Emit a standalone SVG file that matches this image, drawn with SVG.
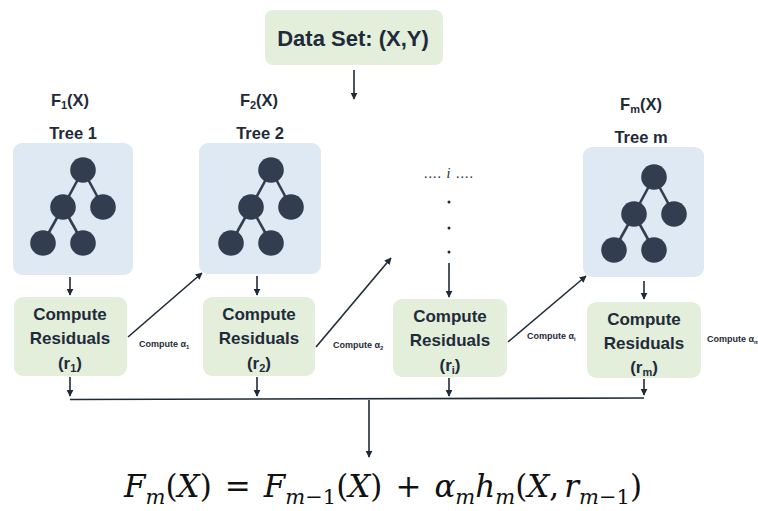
<svg xmlns="http://www.w3.org/2000/svg" width="758" height="511" viewBox="0 0 758 511">
  <style>
    .tb{fill:#dfe9f4}
    .cb{fill:#e3efda}
    .nd{fill:#323e4f}
    .ed{stroke:#323e4f;stroke-width:2.6}
    .lbl{font-family:"Liberation Sans",Arial,sans-serif;font-weight:bold;fill:#1f2b3a;text-anchor:middle}
    .ln{stroke:#1f2a38;stroke-width:1.6;fill:none}
    .sm{font-family:"Liberation Sans",Arial,sans-serif;font-weight:bold;font-size:9px;fill:#1f2b3a}
    .eq{font-family:"DejaVu Serif","Liberation Serif",serif;font-size:31px;fill:#111}
    .it{font-style:italic}
  </style>
  <defs>
    <marker id="ah" viewBox="0 0 10 10" refX="9" refY="5" markerWidth="7" markerHeight="7" markerUnits="userSpaceOnUse" orient="auto">
      <path d="M0,0 L10,5 L0,10 Z" fill="#1f2a38"/>
    </marker>
    <g id="tree">
      <line class="ed" x1="0" y1="0" x2="-20" y2="37"/>
      <line class="ed" x1="0" y1="0" x2="20" y2="37"/>
      <line class="ed" x1="-20" y1="37" x2="-40" y2="73"/>
      <line class="ed" x1="-20" y1="37" x2="0" y2="73"/>
      <circle class="nd" cx="0" cy="0" r="12.8"/>
      <circle class="nd" cx="-20" cy="37" r="12.8"/>
      <circle class="nd" cx="20" cy="37" r="12.8"/>
      <circle class="nd" cx="-40" cy="73" r="12.8"/>
      <circle class="nd" cx="0" cy="73" r="12.8"/>
    </g>
  </defs>

  <!-- data set -->
  <g id="dataset">
    <rect class="cb" x="265" y="10" width="178" height="55" rx="8"/>
    <text class="lbl" x="353" y="46" font-size="22">Data Set: (X,Y)</text>
  </g>

  <!-- tree 1 -->
  <g id="tree1">
    <text class="lbl" x="70" y="106" font-size="16.5">F<tspan font-size="11" dy="3">1</tspan><tspan dy="-3">(X)</tspan></text>
    <text class="lbl" x="73" y="139" font-size="16.5">Tree 1</text>
    <rect class="tb" x="13" y="143" width="120" height="132" rx="9"/>
    <use href="#tree" x="83" y="170"/>
  </g>

  <!-- tree 2 -->
  <g id="tree2">
    <text class="lbl" x="259" y="106" font-size="16.5">F<tspan font-size="11" dy="3">2</tspan><tspan dy="-3">(X)</tspan></text>
    <text class="lbl" x="260" y="139" font-size="16.5">Tree 2</text>
    <rect class="tb" x="199" y="143" width="122" height="131" rx="9"/>
    <use href="#tree" x="271" y="170"/>
  </g>

  <!-- tree i placeholder -->
  <g id="treei">
    <text x="449" y="178" font-family="'Liberation Serif',serif" font-size="14" letter-spacing="1" text-anchor="middle" fill="#1f2b3a">.... <tspan font-style="italic">i</tspan> ....</text>
    <circle cx="449" cy="202" r="1.5" fill="#1f2b3a"/>
    <circle cx="449" cy="228" r="1.5" fill="#1f2b3a"/>
    <circle cx="449" cy="252" r="1.5" fill="#1f2b3a"/>
  </g>

  <!-- tree m -->
  <g id="treem">
    <text class="lbl" x="641" y="110" font-size="16.5">F<tspan font-size="11" dy="3">m</tspan><tspan dy="-3">(X)</tspan></text>
    <text class="lbl" x="641" y="143" font-size="16.5">Tree m</text>
    <rect class="tb" x="583" y="147" width="121" height="130" rx="9"/>
    <use href="#tree" x="654" y="177"/>
  </g>

  <!-- residual boxes -->
  <g id="res1">
    <rect class="cb" x="14" y="297" width="113" height="79" rx="9"/>
    <text class="lbl" x="70" y="320" font-size="17">Compute</text>
    <text class="lbl" x="70" y="344" font-size="17">Residuals</text>
    <text class="lbl" x="70" y="369" font-size="17">(r<tspan font-size="11" dy="3">1</tspan><tspan dy="-3">)</tspan></text>
  </g>
  <g id="res2">
    <rect class="cb" x="203" y="297" width="112" height="79" rx="9"/>
    <text class="lbl" x="259" y="320" font-size="17">Compute</text>
    <text class="lbl" x="259" y="344" font-size="17">Residuals</text>
    <text class="lbl" x="259" y="369" font-size="17">(r<tspan font-size="11" dy="3">2</tspan><tspan dy="-3">)</tspan></text>
  </g>
  <g id="resi">
    <rect class="cb" x="393" y="299" width="114" height="78" rx="9"/>
    <text class="lbl" x="450" y="322" font-size="17">Compute</text>
    <text class="lbl" x="450" y="346" font-size="17">Residuals</text>
    <text class="lbl" x="450" y="371" font-size="17">(r<tspan font-size="11" dy="3">i</tspan><tspan dy="-3">)</tspan></text>
  </g>
  <g id="resm">
    <rect class="cb" x="587" y="302" width="114" height="76" rx="9"/>
    <text class="lbl" x="644" y="325" font-size="17">Compute</text>
    <text class="lbl" x="644" y="349" font-size="17">Residuals</text>
    <text class="lbl" x="644" y="373" font-size="17">(r<tspan font-size="11" dy="3">m</tspan><tspan dy="-3">)</tspan></text>
  </g>

  <!-- step weights -->
  <g id="alphas">
    <text class="sm" x="139" y="347">Compute α<tspan font-size="6" dy="2">1</tspan></text>
    <text class="sm" x="333" y="348">Compute α<tspan font-size="6" dy="2">2</tspan></text>
    <text class="sm" x="527" y="339">Compute α<tspan font-size="6" dy="2">i</tspan></text>
    <text class="sm" x="707" y="342">Compute α<tspan font-size="6" dy="2">m</tspan></text>
  </g>

  <!-- connectors -->
  <g id="connectors">
    <line class="ln" x1="354" y1="70" x2="354" y2="99" marker-end="url(#ah)"/>
    <line class="ln" x1="70" y1="277" x2="70" y2="295" marker-end="url(#ah)"/>
    <line class="ln" x1="257" y1="276" x2="257" y2="295" marker-end="url(#ah)"/>
    <line class="ln" x1="449" y1="263" x2="449" y2="297" stroke-width="2.4" marker-end="url(#ah)"/>
    <line class="ln" x1="644" y1="281" x2="644" y2="299" marker-end="url(#ah)"/>
    <line class="ln" x1="128" y1="337" x2="202" y2="273" marker-end="url(#ah)"/>
    <line class="ln" x1="316" y1="347" x2="391" y2="258" marker-end="url(#ah)"/>
    <line class="ln" x1="508" y1="342" x2="586" y2="276" marker-end="url(#ah)"/>
    <line class="ln" x1="70" y1="377" x2="70" y2="396" marker-end="url(#ah)"/>
    <line class="ln" x1="257" y1="377" x2="257" y2="396" marker-end="url(#ah)"/>
    <line class="ln" x1="449" y1="378" x2="449" y2="396" marker-end="url(#ah)"/>
    <line class="ln" x1="644" y1="379" x2="644" y2="395" marker-end="url(#ah)"/>
    <path class="ln" d="M70,399.5 L644,398" stroke-width="2.6"/>
    <line class="ln" x1="369" y1="400" x2="369" y2="457" stroke-width="1.3" marker-end="url(#ah)"/>
  </g>

  <!-- update rule -->
  <text class="eq" x="124" y="497"><tspan class="it">F</tspan><tspan class="it" font-size="21" dy="7">m</tspan><tspan dy="-7">(</tspan><tspan class="it">X</tspan><tspan>)</tspan><tspan dx="13">=</tspan><tspan class="it" dx="13">F</tspan><tspan font-size="21" dy="7"><tspan class="it">m</tspan>−1</tspan><tspan dy="-7">(</tspan><tspan class="it">X</tspan><tspan>)</tspan><tspan dx="13">+</tspan><tspan class="it" dx="13">α</tspan><tspan class="it" font-size="21" dy="7">m</tspan><tspan class="it" dy="-7">h</tspan><tspan class="it" font-size="21" dy="7">m</tspan><tspan dy="-7">(</tspan><tspan class="it">X</tspan><tspan>,</tspan><tspan class="it" dx="5">r</tspan><tspan font-size="21" dy="7"><tspan class="it">m</tspan>−1</tspan><tspan dy="-7">)</tspan></text>
</svg>
